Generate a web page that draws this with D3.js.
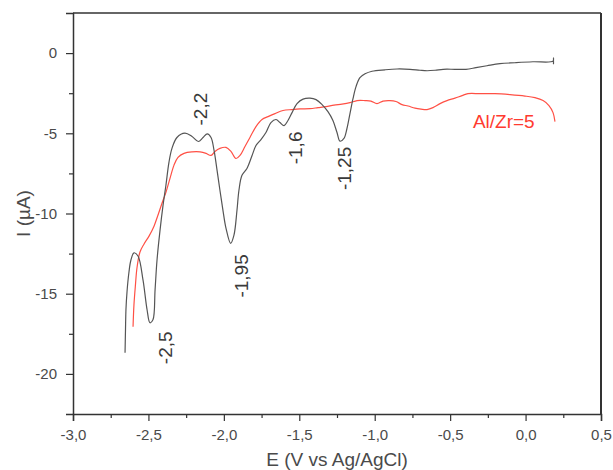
<!DOCTYPE html>
<html>
<head>
<meta charset="utf-8">
<script src="https://cdn.jsdelivr.net/npm/d3@7"></script>
<style>
  body { margin: 0; background: #fff; }
  svg { display: block; font-family: Arial, "Liberation Sans", sans-serif; }
</style>
</head>
<body>
<svg id="chart"></svg>
<script>
var width = 613;
var height = 470;
var margin = { top: 13, right: 12, bottom: 56, left: 73 };

// black curve (E in V, I in uA)
var blackE = [-2.655, -2.652, -2.649, -2.642, -2.629, -2.616, -2.596, -2.569, -2.536, -2.509, -2.490, -2.470,
  -2.456, -2.443, -2.423, -2.403, -2.384, -2.364, -2.344, -2.311, -2.258, -2.211, -2.169, -2.138, -2.110,
  -2.085, -2.065, -2.045, -2.026, -2.006, -1.986, -1.955, -1.933, -1.913, -1.900, -1.880, -1.847, -1.813,
  -1.787, -1.754, -1.721, -1.688, -1.654, -1.628, -1.601, -1.575, -1.548, -1.515, -1.475, -1.429, -1.389,
  -1.349, -1.310, -1.277, -1.250, -1.230, -1.204, -1.184, -1.164, -1.144, -1.124, -1.098, -1.064, -1.018,
  -0.932, -0.852, -0.766, -0.700, -0.653, -0.600, -0.547, -0.468, -0.395, -0.329, -0.256, -0.170, -0.070,
  0.049, 0.182, 0.185, 0.185];
var blackI = [-18.68, -17.25, -16.0, -14.89, -13.65, -12.9, -12.45, -12.65, -14.14, -16.0, -16.81, -16.63,
  -14.76, -12.9, -11.04, -9.48, -8.24, -6.81, -5.94, -5.26, -4.99, -5.2, -5.51, -5.26, -5.03,
  -5.26, -6.07, -7.31, -8.55, -9.8, -10.91, -11.86, -11.35, -9.8, -8.55, -7.62, -7.19, -6.38,
  -5.76, -5.39, -4.95, -4.33, -4.14, -4.33, -4.52, -4.2, -3.71, -3.15, -2.87, -2.81, -2.9,
  -3.21, -3.65, -4.2, -4.95, -5.49, -5.32, -4.7, -3.77, -2.84, -2.09, -1.53, -1.29, -1.13,
  -1.04, -0.99, -1.01, -1.07, -1.10, -1.07, -1.01, -1.01, -1.01, -0.91, -0.79, -0.66, -0.60,
  -0.54, -0.50, -0.30, -0.70];

// red curve, Al/Zr=5
var redE = [-2.602, -2.596, -2.586, -2.576, -2.556, -2.529, -2.496, -2.463, -2.437, -2.410, -2.384, -2.357,
  -2.331, -2.304, -2.264, -2.211, -2.158, -2.118, -2.085, -2.059, -2.026, -1.986, -1.953, -1.920, -1.893,
  -1.860, -1.827, -1.787, -1.747, -1.707, -1.661, -1.608, -1.548, -1.495, -1.429, -1.376, -1.323, -1.270,
  -1.217, -1.164, -1.117, -1.064, -1.025, -0.985, -0.945, -0.899, -0.859, -0.819, -0.779, -0.733, -0.693,
  -0.653, -0.614, -0.567, -0.521, -0.468, -0.421, -0.382, -0.302, -0.203, -0.103, -0.004, 0.062, 0.116,
  0.155, 0.182, 0.195];
var redI = [-17.06, -15.7, -14.45, -13.4, -12.4, -11.9, -11.41, -10.79, -10.11, -9.36, -8.68, -7.81,
  -7.0, -6.5, -6.25, -6.16, -6.16, -6.25, -6.38, -6.13, -5.94, -5.88, -6.13, -6.57, -6.38,
  -5.82, -5.26, -4.58, -4.14, -3.96, -3.77, -3.58, -3.52, -3.48, -3.46, -3.40, -3.34, -3.24,
  -3.18, -3.09, -2.96, -2.96, -2.99, -3.15, -2.99, -2.96, -3.02, -3.21, -3.30, -3.43, -3.49,
  -3.52, -3.40, -3.15, -2.96, -2.81, -2.65, -2.53, -2.53, -2.53, -2.59, -2.68, -2.78, -2.96,
  -3.27, -3.71, -4.27];

// tick values
var xMajor = [-3.0, -2.5, -2.0, -1.5, -1.0, -0.5, 0.0, 0.5];
var xMinor = [-2.75, -2.25, -1.75, -1.25, -0.75, -0.25, 0.25];
var yMajor = [-20, -15, -10, -5, 0];
var yMinor = [-17.5, -12.5, -7.5, -2.5];

// peak labels: text and centre (E, I)
var peakText = ["-2,2", "-1,6", "-1,25", "-1,95", "-2,5"];
var peakE = [-2.158, -1.528, -1.200, -1.886, -2.387];
var peakI = [-3.49, -5.91, -7.19, -13.89, -18.37];

var svg = d3.select("#chart")
  .attr("width", width)
  .attr("height", height);

var x = d3.scaleLinear().domain([-3.0, 0.5]).range([margin.left, width - margin.right]);
var y = d3.scaleLinear().domain([-22.5, 2.5]).range([height - margin.bottom, margin.top]);

var comma = function (d) { return d.toFixed(1).replace(".", ","); };
var intFmt = function (d) { return String(d); };

var axisColor = "#333";
var textColor = "#4a4a4a";

// x axis
svg.append("g")
  .attr("transform", "translate(0," + (height - margin.bottom) + ")")
  .call(d3.axisBottom(x).tickValues(xMajor).tickFormat(comma).tickSize(7).tickPadding(8));
svg.append("g")
  .attr("transform", "translate(0," + (height - margin.bottom) + ")")
  .call(d3.axisBottom(x).tickValues(xMinor).tickFormat("").tickSize(4))
  .select(".domain").remove();

// y axis
svg.append("g")
  .attr("transform", "translate(" + margin.left + ",0)")
  .call(d3.axisLeft(y).tickValues(yMajor).tickFormat(intFmt).tickSize(7).tickPadding(9));
svg.append("g")
  .attr("transform", "translate(" + margin.left + ",0)")
  .call(d3.axisLeft(y).tickValues(yMinor).tickFormat("").tickSize(4))
  .select(".domain").remove();

svg.selectAll(".domain").attr("stroke", axisColor).attr("stroke-width", 1.5);
svg.selectAll(".tick line").attr("stroke", axisColor).attr("stroke-width", 1.2);
svg.selectAll(".tick text")
  .attr("fill", textColor)
  .style("font-size", "15px")
  .style("font-family", "Arial, 'Liberation Sans', sans-serif");

// top and right frame
svg.append("line")
  .attr("x1", x(-3.0)).attr("x2", x(0.5))
  .attr("y1", y(2.5)).attr("y2", y(2.5))
  .attr("stroke", axisColor).attr("stroke-width", 1.5);
svg.append("line")
  .attr("x1", x(0.5)).attr("x2", x(0.5))
  .attr("y1", y(2.5)).attr("y2", y(-22.5))
  .attr("stroke", axisColor).attr("stroke-width", 2);

// curves
var line = d3.line()
  .x(function (d) { return x(d[0]); })
  .y(function (d) { return y(d[1]); })
  .curve(d3.curveCatmullRom.alpha(0.5));

svg.append("path")
  .datum(d3.zip(redE, redI))
  .attr("d", line)
  .attr("fill", "none")
  .attr("stroke", "#ff5045")
  .attr("stroke-width", 1.2);

svg.append("path")
  .datum(d3.zip(blackE, blackI))
  .attr("d", line)
  .attr("fill", "none")
  .attr("stroke", "#555")
  .attr("stroke-width", 1.2);

// peak labels (rotated)
peakText.forEach(function (t, i) {
  var px = x(peakE[i]), py = y(peakI[i]);
  svg.append("text")
    .attr("transform", "translate(" + px + "," + py + ") rotate(-90)")
    .attr("text-anchor", "middle")
    .attr("dominant-baseline", "central")
    .attr("fill", "#3a3a3a")
    .style("font-size", "19px")
    .text(t);
});

// series label
svg.append("text")
  .attr("x", x(-0.349))
  .attr("y", y(-4.70))
  .attr("fill", "#ff3b30")
  .style("font-size", "19px")
  .text("Al/Zr=5");

// axis titles
svg.append("text")
  .attr("x", (x(-3.0) + x(0.5)) / 2)
  .attr("y", height - 4)
  .attr("text-anchor", "middle")
  .attr("fill", textColor)
  .style("font-size", "19px")
  .text("E (V vs Ag/AgCl)");

svg.append("text")
  .attr("transform", "translate(30," + y(-10) + ") rotate(-90)")
  .attr("text-anchor", "middle")
  .attr("fill", textColor)
  .style("font-size", "19px")
  .text("I (\u00b5A)");
</script>
</body>
</html>
